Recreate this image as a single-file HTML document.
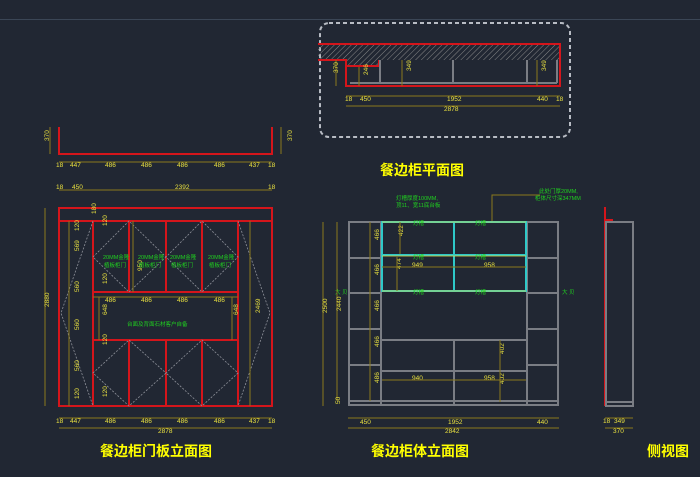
<!DOCTYPE html>
<html><head><meta charset="utf-8"><style>
body{margin:0;background:#212733;}
svg{display:block;font-family:"Liberation Sans","Noto Sans CJK SC",sans-serif;}
.r{stroke:#d4151b;stroke-width:2;fill:none}
.g{stroke:#7a7d84;stroke-width:2;fill:none}
.c{stroke:#2ec8c8;stroke-width:2;fill:none}
.d{stroke:#8a7a1c;stroke-width:1;fill:none}
.w{stroke:#8d9099;stroke-width:0.8;fill:none;stroke-dasharray:2 1.5}
.t{fill:#e8e040;font-size:6.5px}
.gt{fill:#20d020;font-size:5.5px}
.ti{fill:#ffff00;font-size:14px;font-weight:bold}
</style></head><body>
<svg width="700" height="477" viewBox="0 0 700 477">
<defs><pattern id="h" width="4" height="4" patternUnits="userSpaceOnUse" patternTransform="rotate(45)"><line x1="0" y1="0" x2="0" y2="4" stroke="#888" stroke-width="1"/></pattern></defs>
<line x1="0" y1="19.5" x2="700" y2="19.5" stroke="#3b4656" stroke-width="1"/>

<!-- left top plan -->
<path class="r" d="M59 127V154H272V127"/>
<line class="d" x1="50" y1="127" x2="50" y2="154"/><text class="t" x="44" y="146" transform="rotate(-90 44 141)">370</text>
<line class="d" x1="281" y1="127" x2="281" y2="154"/><text class="t" x="287" y="146" transform="rotate(-90 287 141)">370</text>
<line class="d" x1="59" y1="162" x2="272" y2="162"/>
<g class="t"><text x="56" y="167">18</text><text x="70" y="167">447</text><text x="105" y="167">486</text><text x="141" y="167">486</text><text x="177" y="167">486</text><text x="214" y="167">486</text><text x="249" y="167">437</text><text x="268" y="167">18</text></g>
<line class="d" x1="59" y1="190" x2="272" y2="190"/>
<g class="t"><text x="56" y="189">18</text><text x="72" y="189">450</text><text x="175" y="189">2392</text><text x="268" y="189">18</text></g>

<!-- door elevation -->
<rect class="r" x="59" y="208" width="213" height="198"/>
<line class="r" x1="59" y1="221" x2="272" y2="221"/>
<path class="r" d="M93 221V292M129 221V292M166 221V292M202 221V292M238 221V406M93 340V406M129 340V406M166 340V406M202 340V406"/>
<rect class="r" x="93" y="292" width="145" height="48"/>
<path class="r" d="M93 292V406" />
<path class="w" d="M93 257L129 221L166 257L202 221L238 257L202 292L166 257L129 292L93 257Z"/>
<path class="w" d="M93 373L129 340L166 373L202 340L238 373L202 406L166 373L129 406L93 373Z"/>
<path class="w" d="M93 221L61 313L93 406M238 221L270 313L238 406"/>
<line class="d" x1="45" y1="208" x2="45" y2="406"/><text class="t" x="44" y="312" transform="rotate(-90 44 307)">2880</text>
<line class="d" x1="69" y1="221" x2="69" y2="406"/>
<g class="t"><text x="74" y="236" transform="rotate(-90 74 231)">120</text><text x="74" y="256" transform="rotate(-90 74 251)">569</text><text x="74" y="297" transform="rotate(-90 74 292)">560</text><text x="74" y="335" transform="rotate(-90 74 330)">560</text><text x="74" y="376" transform="rotate(-90 74 371)">560</text><text x="74" y="404" transform="rotate(-90 74 399)">120</text>
<text x="91" y="219" transform="rotate(-90 91 214)">180</text><text x="102" y="231" transform="rotate(-90 102 226)">120</text><text x="102" y="289" transform="rotate(-90 102 284)">120</text><text x="102" y="350" transform="rotate(-90 102 345)">120</text><text x="102" y="402" transform="rotate(-90 102 397)">120</text>
<text x="137" y="276" transform="rotate(-90 137 271)">950</text>
<text x="102" y="320" transform="rotate(-90 102 315)">648</text><text x="233" y="320" transform="rotate(-90 233 315)">648</text><text x="255" y="318" transform="rotate(-90 255 313)">2469</text>
<text x="105" y="302">486</text><text x="141" y="302">486</text><text x="177" y="302">486</text><text x="214" y="302">486</text></g>
<line class="d" x1="133" y1="221" x2="133" y2="292"/><line class="d" x1="99" y1="297" x2="99" y2="340"/><line class="d" x1="232" y1="297" x2="232" y2="340"/><line class="d" x1="250" y1="221" x2="250" y2="406"/>
<line class="d" x1="93" y1="297" x2="238" y2="297"/>
<g class="gt"><text x="103" y="259">20MM金隆</text><text x="104" y="267">植板柜门</text><text x="138" y="259">20MM金隆</text><text x="139" y="267">植板柜门</text><text x="170" y="259">20MM金隆</text><text x="171" y="267">植板柜门</text><text x="208" y="259">20MM金隆</text><text x="209" y="267">植板柜门</text>
<text x="127" y="326">台面及背面石材客户自备</text></g>
<line class="d" x1="59" y1="418" x2="272" y2="418"/>
<g class="t"><text x="56" y="423">18</text><text x="70" y="423">447</text><text x="105" y="423">486</text><text x="141" y="423">486</text><text x="177" y="423">486</text><text x="214" y="423">486</text><text x="249" y="423">437</text><text x="268" y="423">18</text></g>
<line class="d" x1="59" y1="428" x2="272" y2="428"/><text class="t" x="158" y="433">2878</text>
<text class="ti" x="100" y="456">餐边柜门板立面图</text>

<!-- plan view -->
<rect x="320" y="23" width="250" height="114" rx="9" fill="none" stroke="#b8bcc4" stroke-width="2" stroke-dasharray="4 3"/>
<rect x="318" y="44" width="242" height="16" fill="url(#h)"/>
<rect x="346" y="60" width="33" height="6" fill="url(#h)"/>
<path class="r" d="M318 44H560V86H346V60H318"/>
<path class="r" d="M346 66H379V60" stroke-width="1"/>
<path class="g" stroke-width="1.5" d="M350 83H557M380 60V83M453 60V83M527 60V83M557 60V83"/>
<line class="d" x1="336" y1="60" x2="336" y2="86"/><text class="t" x="333" y="78" transform="rotate(-90 333 73)">370</text>
<line class="d" x1="359" y1="67" x2="359" y2="86"/><text class="t" x="363" y="80" transform="rotate(-90 363 75)">246</text>
<line class="d" x1="402" y1="60" x2="402" y2="86"/><text class="t" x="406" y="76" transform="rotate(-90 406 71)">349</text>
<line class="d" x1="537" y1="60" x2="537" y2="86"/><text class="t" x="541" y="76" transform="rotate(-90 541 71)">349</text>
<line class="d" x1="346" y1="96" x2="560" y2="96"/><line class="d" x1="346" y1="106" x2="560" y2="106"/>
<g class="t"><text x="345" y="101">18</text><text x="360" y="101">450</text><text x="447" y="101">1952</text><text x="537" y="101">440</text><text x="556" y="101">18</text><text x="444" y="111">2878</text></g>
<text class="ti" x="380" y="175">餐边柜平面图</text>

<!-- body elevation -->
<rect class="g" x="349" y="222" width="209" height="183"/>
<path class="g" d="M381 222V405M527 222V405M454 341V405M349 258H381M349 293H381M349 329H381M349 365H381M349 401H558M527 258H558M527 293H558M527 329H558M527 365H558M382 340H527M382 371H527"/>
<rect class="c" x="382" y="222" width="144" height="69"/>
<path class="c" d="M382 255H526M454 222V291"/>
<path d="M382 222H526M382 256H526M382 291H526" stroke="#e8e040" stroke-width="0.8"/>
<g class="gt"><text x="413" y="225">灯槽</text><text x="475" y="225">灯槽</text><text x="413" y="259">灯槽</text><text x="475" y="259">灯槽</text><text x="413" y="294">灯槽</text><text x="475" y="294">灯槽</text>
<text x="335" y="294">大 贝</text><text x="562" y="294">大 贝</text>
<text x="396" y="200">灯槽厚度100MM,</text><text x="396" y="207">顶11、宽11底台板</text><text x="539" y="193">此处门厚20MM,</text><text x="535" y="200">柜体尺寸深347MM</text></g>
<path class="d" d="M492 221V195H540"/>
<line class="d" x1="323" y1="222" x2="323" y2="406"/><text class="t" x="322" y="318" transform="rotate(-90 322 313)">2500</text>
<line class="d" x1="337" y1="222" x2="337" y2="401"/><text class="t" x="336" y="316" transform="rotate(-90 336 311)">2440</text>
<text class="t" x="336" y="408" transform="rotate(-90 336 404)">50</text>
<line class="d" x1="370" y1="222" x2="370" y2="401"/>
<g class="t"><text x="374" y="245" transform="rotate(-90 374 240)">466</text><text x="374" y="280" transform="rotate(-90 374 275)">466</text><text x="374" y="316" transform="rotate(-90 374 311)">466</text><text x="374" y="352" transform="rotate(-90 374 347)">466</text><text x="374" y="388" transform="rotate(-90 374 383)">486</text>
<text x="398" y="241" transform="rotate(-90 398 236)">422</text><text x="396" y="274" transform="rotate(-90 396 269)">474</text>
<text x="412" y="267">949</text><text x="484" y="267">958</text><text x="412" y="380">940</text><text x="484" y="380">958</text>
<text x="499" y="359" transform="rotate(-90 499 354)">402</text><text x="499" y="389" transform="rotate(-90 499 384)">402</text></g>
<line class="d" x1="400" y1="222" x2="400" y2="254"/><line class="d" x1="397" y1="257" x2="397" y2="291"/>
<line class="d" x1="382" y1="267" x2="526" y2="267"/><line class="d" x1="382" y1="380" x2="526" y2="380"/><line class="d" x1="500" y1="340" x2="500" y2="402"/>
<line class="d" x1="348" y1="418" x2="559" y2="418"/><line class="d" x1="348" y1="428" x2="559" y2="428"/>
<g class="t"><text x="360" y="424">450</text><text x="448" y="424">1952</text><text x="537" y="424">440</text><text x="445" y="433">2842</text></g>
<text class="ti" x="371" y="456">餐边柜体立面图</text>

<!-- side view -->
<path class="r" d="M605 207V406M605 220H613"/>
<rect class="g" x="606" y="222" width="27" height="184"/>
<line class="g" x1="606" y1="402" x2="633" y2="402"/>
<line class="d" x1="605" y1="418" x2="633" y2="418"/><line class="d" x1="605" y1="428" x2="633" y2="428"/>
<g class="t"><text x="603" y="423">18</text><text x="614" y="423">349</text><text x="613" y="433">370</text></g>
<text class="ti" x="647" y="456">侧视图</text>
</svg>
</body></html>
